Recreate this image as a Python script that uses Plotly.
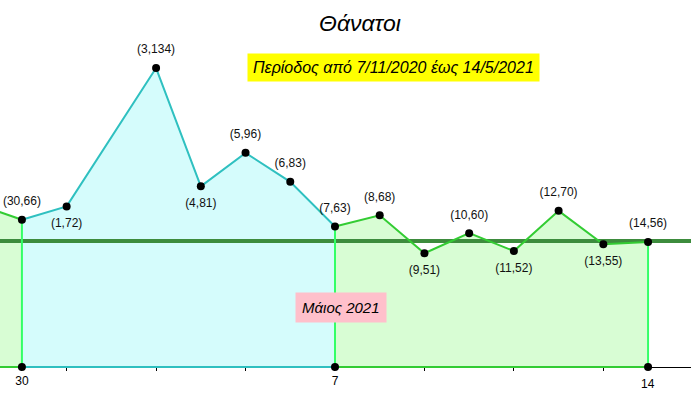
import pandas as pd
import plotly.graph_objects as go

# Daily deaths, 29/4/2021 - 14/5/2021 (no value for 2/5)
dates = pd.to_datetime([
    "2021-04-29", "2021-04-30", "2021-05-01", "2021-05-03", "2021-05-04",
    "2021-05-05", "2021-05-06", "2021-05-07", "2021-05-08", "2021-05-09",
    "2021-05-10", "2021-05-11", "2021-05-12", "2021-05-13", "2021-05-14",
])
deaths = [73, 66, 72, 134, 81, 96, 83, 63, 68, 51, 60, 52, 70, 55, 56]
label_pos = ["top center", "top center", "bottom center", "top center", "bottom center",
             "top center", "top center", "top center", "top center", "bottom center",
             "top center", "bottom center", "top center", "bottom center", "top center"]
avg_deaths = 56.5

# week boundaries (vertical lines + dots on the axis)
split_dates = pd.to_datetime(["2021-04-30", "2021-05-07", "2021-05-14"])
tick_dates = pd.to_datetime(["2021-04-30", "2021-05-01", "2021-05-03", "2021-05-05",
                             "2021-05-07", "2021-05-09", "2021-05-11", "2021-05-13"])
tick_text = ["30", "", "", "", "7", "", "", ""]

df = pd.DataFrame({"date": dates, "deaths": deaths, "pos": label_pos})
df["label"] = ["(%d,%d)" % (d.day, v) for d, v in zip(df["date"], df["deaths"])]

# visible window
x_lo = split_dates[0] - pd.Timedelta(days=0.49)
x_hi = split_dates[0] + pd.Timedelta(days=14.96)
y_lo, y_hi = -17.9, 164.5

TEAL = "#2fc0c0"
GREEN = "#33cc33"
LIME = "#33ff66"
segments = [
    (dates[0], split_dates[0], GREEN, "#d8fdd4"),
    (split_dates[0], split_dates[1], TEAL, "#d5fcfc"),
    (split_dates[1], split_dates[2], GREEN, "#d8fdd4"),
]

fig = go.Figure()

# fills
for start, end, lc, fc in segments:
    seg = df[(df["date"] >= start) & (df["date"] <= end)]
    fig.add_trace(go.Scatter(x=seg["date"], y=seg["deaths"], mode="lines",
                             fill="tozeroy", fillcolor=fc, line=dict(width=0, color=fc)))

# average line
fig.add_trace(go.Scatter(x=[x_lo, x_hi], y=[avg_deaths, avg_deaths], mode="lines",
                         line=dict(color="#3d8c3d", width=4)))

# outlines
for start, end, lc, fc in segments:
    seg = df[(df["date"] >= start) & (df["date"] <= end)]
    fig.add_trace(go.Scatter(x=seg["date"], y=seg["deaths"], mode="lines",
                             line=dict(color=lc, width=2)))
    fig.add_trace(go.Scatter(x=[start, end], y=[0, 0], mode="lines",
                             line=dict(color=lc, width=2)))

# vertical lines at the boundaries
for d in split_dates:
    v = df.loc[df["date"] == d, "deaths"].iloc[0]
    fig.add_trace(go.Scatter(x=[d, d], y=[0, v], mode="lines",
                             line=dict(color=LIME, width=2)))

# labels (invisible bigger marker pushes the text further from the point)
fig.add_trace(go.Scatter(
    x=df["date"], y=df["deaths"], mode="markers+text",
    marker=dict(color="rgba(0,0,0,0)", size=17),
    text=df["label"], textposition=df["pos"].tolist(),
    textfont=dict(family="Liberation Sans, Arial", size=12, color="#111111"),
))
# points
fig.add_trace(go.Scatter(x=df["date"], y=df["deaths"], mode="markers",
                         marker=dict(color="black", size=8)))

# dots on the axis
fig.add_trace(go.Scatter(x=split_dates, y=[0] * len(split_dates), mode="markers",
                         marker=dict(color="black", size=8)))

fig.update_layout(
    width=691, height=407,
    margin=dict(l=0, r=0, t=0, b=0),
    showlegend=False,
    plot_bgcolor="white", paper_bgcolor="white",
    xaxis=dict(
        type="date", range=[x_lo, x_hi],
        anchor="free", position=(0 - y_lo) / (y_hi - y_lo),
        showgrid=False, zeroline=False, showline=False,
        tickvals=tick_dates, ticktext=tick_text,
        ticks="outside", ticklen=3, tickcolor="black",
        tickfont=dict(family="Liberation Sans Narrow, Liberation Sans, Arial", size=12, color="black"),
        layer="below traces",
    ),
    yaxis=dict(
        range=[y_lo, y_hi], showgrid=False, showticklabels=False, showline=False,
        zeroline=True, zerolinecolor="black", zerolinewidth=1,
        layer="below traces",
    ),
    font=dict(family="Liberation Sans, Arial", color="black"),
)

# "14" sits a bit lower than the other tick labels
fig.add_annotation(x=split_dates[2], y=0, yshift=-17, text="14", showarrow=False,
                   font=dict(family="Liberation Sans Narrow, Liberation Sans, Arial", size=12))

fig.add_annotation(x=360 / 691, y=1 - 23 / 407, xref="paper", yref="paper",
                   xanchor="center", yanchor="middle",
                   text="<i>Θάνατοι</i>", showarrow=False, font=dict(size=23))
fig.add_annotation(x=393 / 691, y=1 - 67.5 / 407, xref="paper", yref="paper",
                   xanchor="center", yanchor="middle",
                   text="<i>Περίοδος από 7/11/2020 έως 14/5/2021</i>", showarrow=False,
                   font=dict(size=16), bgcolor="#ffff00", borderpad=5)
fig.add_annotation(x=341 / 691, y=1 - 307 / 407, xref="paper", yref="paper",
                   xanchor="center", yanchor="middle",
                   text="<i>Μάιος 2021</i>", showarrow=False,
                   font=dict(size=15), bgcolor="#ffc0cb", borderpad=6)

# page body has a default 8px margin; drop it so the chart fills the window
fig.write_html("out.html", config={"displayModeBar": False},
               post_script="document.body.style.margin = '0';")
